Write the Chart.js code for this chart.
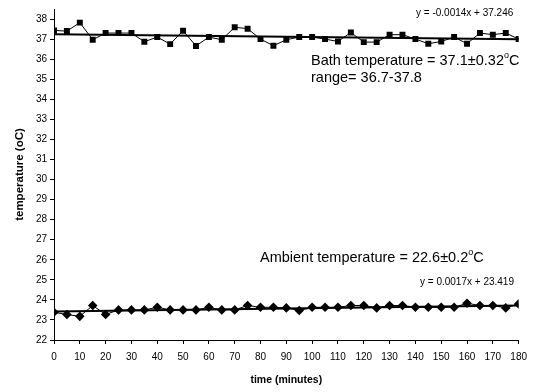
<!DOCTYPE html>
<html>
<head>
<meta charset="utf-8">
<style>
  html, body { margin: 0; padding: 0; background: #fff; }
  #wrap { width: 534px; height: 392px; }
</style>
<script src="https://cdn.jsdelivr.net/npm/chart.js@4/dist/chart.umd.min.js"></script>
</head>
<body>
<div id="wrap"><canvas id="temp_chart" width="534" height="392"></canvas></div>
<script>
const minutes = [0, 5, 10, 15, 20, 25, 30, 35, 40, 45, 50, 55, 60, 65, 70, 75, 80, 85, 90,
  95, 100, 105, 110, 115, 120, 125, 130, 135, 140, 145, 150, 155, 160, 165, 170, 175, 180];

const bathTemp = [37.43, 37.4, 37.82, 36.97, 37.3, 37.3, 37.3, 36.87, 37.1, 36.75, 37.42, 36.66, 37.1,
  36.97, 37.59, 37.52, 37.0, 36.67, 36.97, 37.1, 37.1, 37.0, 36.88, 37.33, 36.85, 36.85, 37.22,
  37.22, 37.0, 36.77, 36.88, 37.1, 36.77, 37.3, 37.22, 37.3, 37.0];

const ambientTemp = [23.38, 23.27, 23.18, 23.72, 23.27, 23.5, 23.5, 23.5, 23.63, 23.5, 23.5, 23.5, 23.63,
  23.5, 23.5, 23.72, 23.63, 23.63, 23.6, 23.47, 23.63, 23.63, 23.63, 23.72, 23.72, 23.6, 23.72,
  23.72, 23.63, 23.63, 23.63, 23.63, 23.83, 23.72, 23.72, 23.6, 23.8];

const yTicks = [22, 23, 24, 25, 26, 27, 28, 29, 30, 31, 32, 33, 34, 35, 36, 37, 38];

// linear trend lines, as printed on the chart
const bathSlope = -0.0014, bathIntercept = 37.246;
const ambientSlope = 0.0017, ambientIntercept = 23.419;

const toPoints = (ys) => minutes.map((x, i) => ({ x, y: ys[i] }));
const trend = (m, b) => [minutes[0], minutes[minutes.length - 1]].map((x) => ({ x, y: m * x + b }));

const FONT = '"Liberation Sans", Arial, sans-serif';

// draws the text with the 'o' before C as a small raised o
const drawDegText = (ctx, str, x, y, size) => {
  const idx = str.lastIndexOf('oC');
  const head = str.slice(0, idx);
  ctx.font = `${size}px ${FONT}`;
  ctx.fillText(head, x, y);
  let cx = x + ctx.measureText(head).width;
  ctx.font = `${Math.round(size * 0.62)}px ${FONT}`;
  ctx.fillText('o', cx, y - size * 0.38);
  cx += ctx.measureText('o').width;
  ctx.font = `${size}px ${FONT}`;
  ctx.fillText('C', cx, y);
};

const notes = {
  id: 'notes',
  afterDraw(chart) {
    const ctx = chart.ctx;
    ctx.save();
    ctx.fillStyle = '#000';
    ctx.textBaseline = 'middle';
    ctx.textAlign = 'left';
    ctx.font = `10px ${FONT}`;
    ctx.fillText('y = -0.0014x + 37.246', 416, 13);
    ctx.fillText('y = 0.0017x + 23.419', 420, 282);
    drawDegText(ctx, 'Bath temperature = 37.1\u00b10.32oC', 311, 61, 14.5);
    ctx.font = `14.5px ${FONT}`;
    ctx.fillText('range= 36.7-37.8', 311, 78);
    drawDegText(ctx, 'Ambient temperature = 22.6\u00b10.2oC', 260, 258, 14.5);
    ctx.restore();
  },
};

const chartContext = document.getElementById('temp_chart').getContext('2d');
const chart = new Chart(chartContext, {
  type: 'line',
  data: {
    datasets: [
      {
        label: 'Bath',
        data: toPoints(bathTemp),
        borderColor: '#000',
        backgroundColor: '#000',
        borderWidth: 1,
        pointStyle: 'rect',
        pointRadius: 4.2,
        pointBorderWidth: 0,
      },
      {
        label: 'Ambient',
        data: toPoints(ambientTemp),
        borderColor: '#000',
        backgroundColor: '#000',
        borderWidth: 1,
        pointStyle: 'rectRot',
        pointRadius: 4.8,
        pointBorderWidth: 0,
      },
      {
        label: 'Bath trend',
        data: trend(bathSlope, bathIntercept),
        borderColor: '#000',
        borderWidth: 2,
        pointRadius: 0,
      },
      {
        label: 'Ambient trend',
        data: trend(ambientSlope, ambientIntercept),
        borderColor: '#000',
        borderWidth: 2,
        pointRadius: 0,
      },
    ],
  },
  options: {
    responsive: false,
    animation: false,
    layout: { padding: { top: 2, right: 15, bottom: 0, left: 0 } },
    plugins: { legend: { display: false }, tooltip: { enabled: false } },
    scales: {
      x: {
        type: 'linear',
        min: 0,
        max: 180,
        afterFit: (scale) => { scale.height = 52; },
        ticks: { stepSize: 10, color: '#000', padding: 7, font: { family: FONT, size: 10 } },
        grid: { drawOnChartArea: false, tickLength: 4, color: '#000' },
        border: { color: '#000', width: 1 },
        title: {
          display: true,
          text: 'time (minutes)',
          color: '#000',
          font: { family: FONT, size: 10.5, weight: 'bold' },
          padding: { top: 0, bottom: 6 },
        },
      },
      y: {
        min: 22,
        max: 38.5,
        afterFit: (scale) => { scale.width = 54; },
        afterBuildTicks: (scale) => { scale.ticks = yTicks.map((value) => ({ value })); },
        ticks: { color: '#000', padding: 3, font: { family: FONT, size: 10 } },
        grid: { drawOnChartArea: false, tickLength: 4, color: '#000' },
        border: { color: '#000', width: 1 },
        title: {
          display: true,
          text: 'temperature (oC)',
          color: '#000',
          font: { family: FONT, size: 11.5, weight: 'bold' },
          padding: { top: 13, bottom: 0 },
        },
      },
    },
  },
  plugins: [notes],
});
</script>
</body>
</html>
